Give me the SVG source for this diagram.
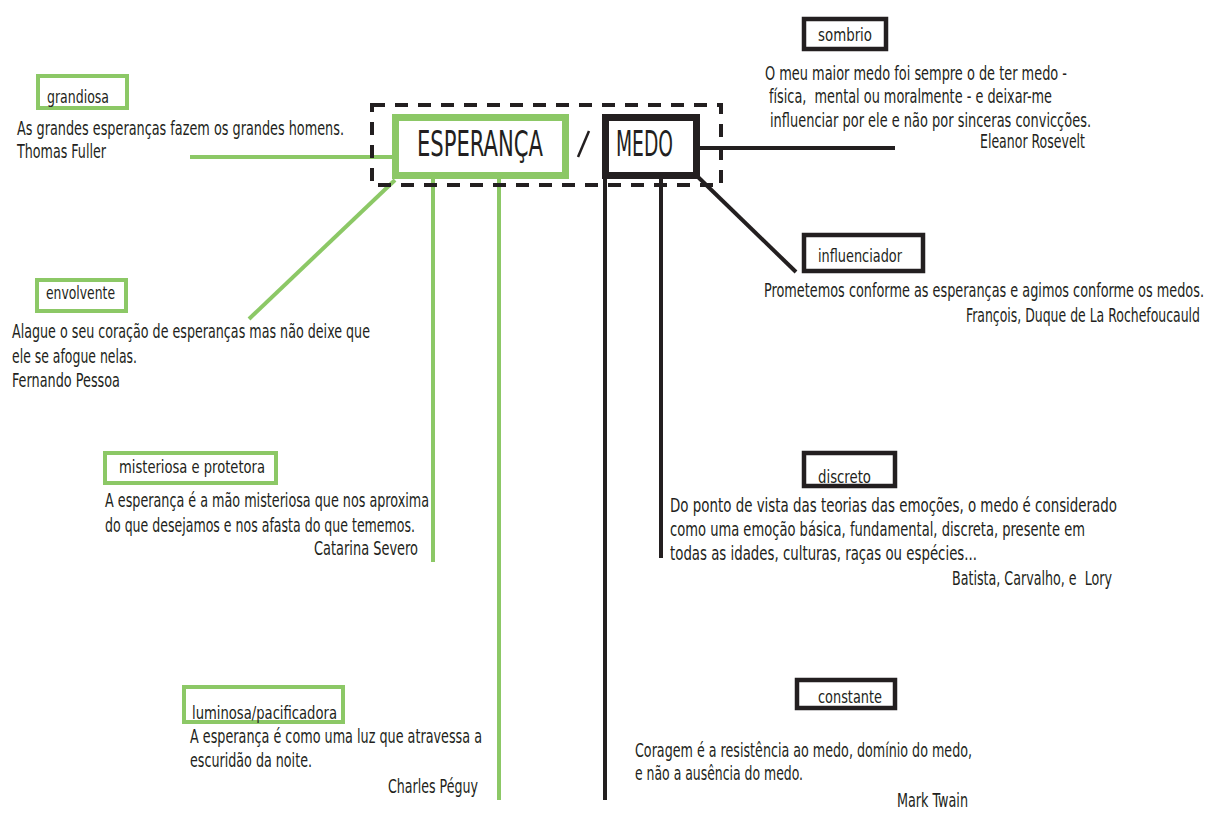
<svg xmlns="http://www.w3.org/2000/svg" width="1212" height="814" viewBox="0 0 1212 814">
<style>
text{font-family:"DejaVu Sans","Liberation Sans",sans-serif;font-stretch:condensed;fill:#231f20}
.q{font-size:19.5px}
.l{font-size:17px}
.g{fill:none;stroke:#8cc866}
.k{fill:none;stroke:#231f20}
</style>
<rect width="1212" height="814" fill="#fff"/>
<g id="connectors" fill="none">
<line class="g" x1="190" y1="157" x2="395" y2="157" stroke-width="4"/>
<line class="g" x1="395" y1="180" x2="249" y2="319" stroke-width="4"/>
<line class="g" x1="433" y1="178" x2="433" y2="562" stroke-width="4"/>
<line class="g" x1="499" y1="178" x2="499" y2="800" stroke-width="4"/>
<line class="k" x1="605" y1="178" x2="605" y2="800" stroke-width="4"/>
<line class="k" x1="661" y1="178" x2="661" y2="558" stroke-width="4"/>
<line class="k" x1="698" y1="177" x2="796" y2="272" stroke-width="4"/>
<line class="k" x1="700" y1="148" x2="895" y2="148" stroke-width="4"/>
</g>
<g id="center">
<rect x="372" y="105" width="349" height="80" fill="none" stroke="#231f20" stroke-width="4" stroke-dasharray="13 10"/>
<rect x="395.5" y="117.5" width="170" height="58" fill="#fff" stroke="#8cc866" stroke-width="7"/>
<text x="417" y="156" font-size="36" textLength="126" lengthAdjust="spacingAndGlyphs">ESPERANÇA</text>
<line x1="589" y1="131" x2="578" y2="157" stroke="#231f20" stroke-width="2.5"/>
<rect x="605.5" y="117.5" width="91" height="58" fill="#fff" stroke="#231f20" stroke-width="7"/>
<text x="616" y="156" font-size="36" textLength="57" lengthAdjust="spacingAndGlyphs">MEDO</text>
</g>
<g id="grandiosa">
<rect class="g" x="38" y="76" width="89" height="32" stroke-width="4"/>
<text class="l" x="47" y="103" textLength="62" lengthAdjust="spacingAndGlyphs">grandiosa</text>
<text class="q" x="17" y="135" textLength="327" lengthAdjust="spacingAndGlyphs">As grandes esperanças fazem os grandes homens.</text>
<text class="q" x="17" y="158" textLength="89" lengthAdjust="spacingAndGlyphs">Thomas Fuller</text>
</g>
<g id="sombrio">
<rect class="k" x="804" y="19" width="82" height="30" stroke-width="4.5"/>
<text class="l" x="818" y="41" textLength="54" lengthAdjust="spacingAndGlyphs">sombrio</text>
<text class="q" x="765" y="80" textLength="302" lengthAdjust="spacingAndGlyphs">O meu maior medo foi sempre o de ter medo -</text>
<text class="q" x="769" y="103" textLength="283" lengthAdjust="spacingAndGlyphs" xml:space="preserve">física,  mental ou moralmente - e deixar-me</text>
<text class="q" x="770" y="127" textLength="321" lengthAdjust="spacingAndGlyphs">influenciar por ele e não por sinceras convicções.</text>
<text class="q" x="980" y="148" textLength="105" lengthAdjust="spacingAndGlyphs">Eleanor Rosevelt</text>
</g>
<g id="envolvente">
<rect class="g" x="37" y="280" width="89" height="31" stroke-width="4"/>
<text class="l" x="46" y="299" textLength="69" lengthAdjust="spacingAndGlyphs">envolvente</text>
<text class="q" x="12" y="338" textLength="358" lengthAdjust="spacingAndGlyphs">Alague o seu coração de esperanças mas não deixe que</text>
<text class="q" x="12" y="363" textLength="125" lengthAdjust="spacingAndGlyphs">ele se afogue nelas.</text>
<text class="q" x="12" y="387" textLength="108" lengthAdjust="spacingAndGlyphs">Fernando Pessoa</text>
</g>
<g id="influenciador">
<rect class="k" x="804" y="235" width="119" height="36" stroke-width="4.5"/>
<text class="l" x="818" y="262" textLength="84" lengthAdjust="spacingAndGlyphs">influenciador</text>
<text class="q" x="764" y="297" textLength="440" lengthAdjust="spacingAndGlyphs">Prometemos conforme as esperanças e agimos conforme os medos.</text>
<text class="q" x="966" y="322" textLength="234" lengthAdjust="spacingAndGlyphs">François, Duque de La Rochefoucauld</text>
</g>
<g id="misteriosa">
<rect class="g" x="105" y="453" width="171" height="30" stroke-width="4"/>
<text class="l" x="119" y="473" textLength="146" lengthAdjust="spacingAndGlyphs">misteriosa e protetora</text>
<text class="q" x="105" y="507" textLength="324" lengthAdjust="spacingAndGlyphs">A esperança é a mão misteriosa que nos aproxima</text>
<text class="q" x="105" y="532" textLength="310" lengthAdjust="spacingAndGlyphs">do que desejamos e nos afasta do que tememos.</text>
<text class="q" x="314" y="555" textLength="104" lengthAdjust="spacingAndGlyphs">Catarina Severo</text>
</g>
<g id="discreto">
<rect class="k" x="804" y="453" width="91" height="33" stroke-width="4.5"/>
<text class="l" x="818" y="483" textLength="53" lengthAdjust="spacingAndGlyphs">discreto</text>
<text class="q" x="670" y="512" textLength="447" lengthAdjust="spacingAndGlyphs">Do ponto de vista das teorias das emoções, o medo é considerado</text>
<text class="q" x="670" y="536" textLength="415" lengthAdjust="spacingAndGlyphs">como uma emoção básica, fundamental, discreta, presente em</text>
<text class="q" x="670" y="560" textLength="307" lengthAdjust="spacingAndGlyphs">todas as idades, culturas, raças ou espécies...</text>
<text class="q" x="952" y="585" textLength="160" lengthAdjust="spacingAndGlyphs" xml:space="preserve">Batista, Carvalho, e  Lory</text>
</g>
<g id="luminosa">
<rect class="g" x="184" y="687" width="159" height="35" stroke-width="4"/>
<text class="l" x="192" y="719" textLength="145" lengthAdjust="spacingAndGlyphs">luminosa/pacificadora</text>
<text class="q" x="190" y="743" textLength="292" lengthAdjust="spacingAndGlyphs">A esperança é como uma luz que atravessa a</text>
<text class="q" x="190" y="767" textLength="122" lengthAdjust="spacingAndGlyphs">escuridão da noite.</text>
<text class="q" x="388" y="793" textLength="90" lengthAdjust="spacingAndGlyphs">Charles Péguy</text>
</g>
<g id="constante">
<rect class="k" x="797" y="680" width="98" height="28" stroke-width="4.5"/>
<text class="l" x="818" y="703" textLength="64" lengthAdjust="spacingAndGlyphs">constante</text>
<text class="q" x="635" y="757" textLength="337" lengthAdjust="spacingAndGlyphs">Coragem é a resistência ao medo, domínio do medo,</text>
<text class="q" x="635" y="780" textLength="168" lengthAdjust="spacingAndGlyphs">e não a ausência do medo.</text>
<text class="q" x="897" y="807" textLength="71" lengthAdjust="spacingAndGlyphs">Mark Twain</text>
</g>
</svg>
